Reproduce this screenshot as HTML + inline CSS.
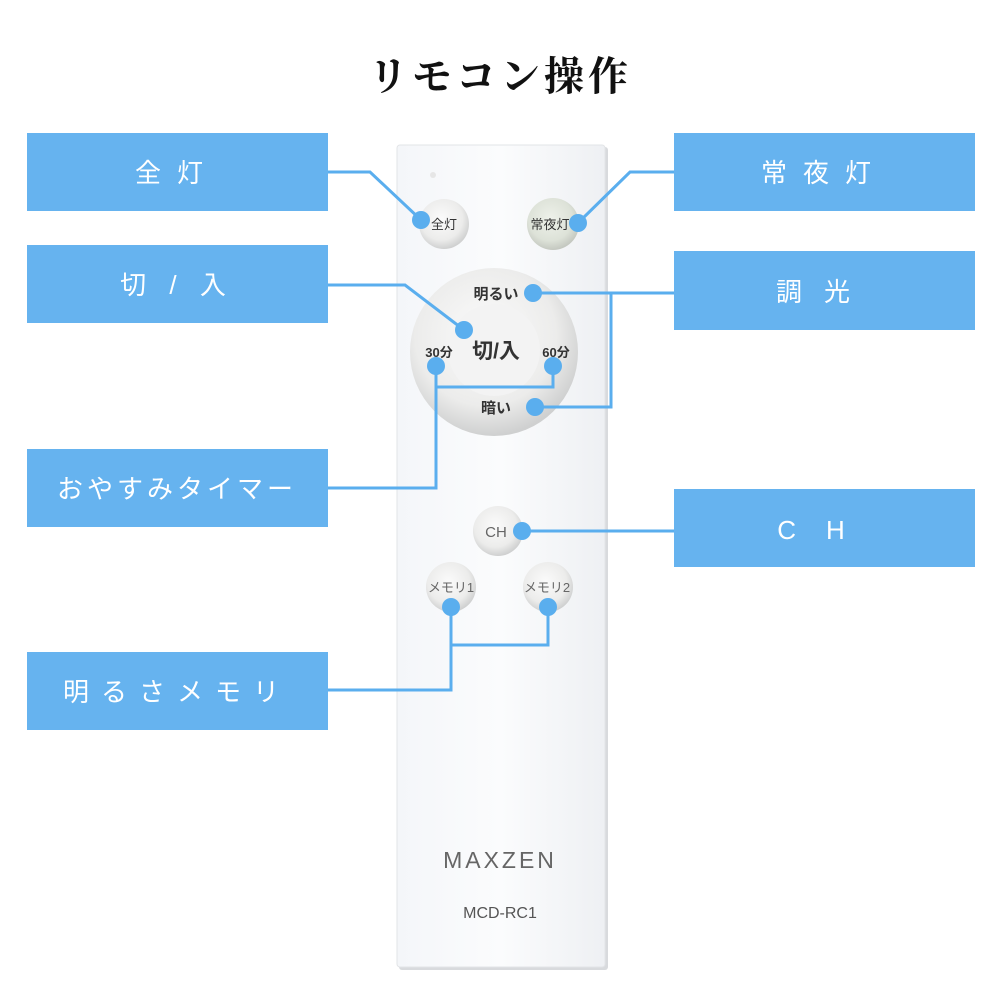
<!DOCTYPE html>
<html><head><meta charset="utf-8"><style>
body{margin:0;background:#fff;}
svg{display:block}
</style></head><body>
<svg width="1000" height="1000" viewBox="0 0 1000 1000" xmlns="http://www.w3.org/2000/svg">
<defs>
<radialGradient id="btn" cx="45%" cy="40%" r="60%"><stop offset="0" stop-color="#fbfbfb"/><stop offset="0.7" stop-color="#ececeb"/><stop offset="1" stop-color="#cfd0d0"/></radialGradient>
<radialGradient id="btng" cx="45%" cy="40%" r="60%"><stop offset="0" stop-color="#eef1ea"/><stop offset="0.7" stop-color="#dde2d8"/><stop offset="1" stop-color="#c4c8c0"/></radialGradient>
<linearGradient id="rem" x1="0" x2="1"><stop offset="0" stop-color="#f4f6f9"/><stop offset="0.5" stop-color="#fbfcfd"/><stop offset="1" stop-color="#eef0f3"/></linearGradient>
</defs>
<text x="500" y="90" text-anchor="middle" font-family="'Noto Serif CJK SC','Liberation Serif',serif" font-weight="700" font-size="40" fill="#111" letter-spacing="4">リモコン操作</text>
<!-- remote -->
<rect x="399" y="147" width="209" height="823" rx="3" fill="#d8dadd"/>
<rect x="397" y="145" width="208" height="822" rx="3" fill="url(#rem)" stroke="#e2e4e7"/>
<circle cx="433" cy="175" r="3" fill="#e6e6e6"/>
<circle cx="444" cy="224" r="25" fill="url(#btn)"/>
<circle cx="553" cy="224" r="26" fill="url(#btng)"/>
<circle cx="494" cy="352" r="84" fill="url(#btn)"/>
<circle cx="494" cy="350" r="46" fill="#f3f3f3"/>
<circle cx="498" cy="531" r="25" fill="url(#btn)"/>
<circle cx="451" cy="587" r="25" fill="url(#btn)"/>
<circle cx="548" cy="587" r="25" fill="url(#btn)"/>
<g font-family="'Liberation Sans','Noto Sans CJK JP',sans-serif" fill="#333">
<text x="444" y="229" text-anchor="middle" font-size="13">全灯</text>
<text x="550" y="229" text-anchor="middle" font-size="13">常夜灯</text>
<text x="496" y="299" text-anchor="middle" font-size="15" font-weight="700">明るい</text>
<text x="439" y="357" text-anchor="middle" font-size="13" font-weight="700">30分</text>
<text x="556" y="357" text-anchor="middle" font-size="13" font-weight="700">60分</text>
<text x="496" y="358" text-anchor="middle" font-size="21" font-weight="700">切/入</text>
<text x="496" y="413" text-anchor="middle" font-size="15" font-weight="700">暗い</text>
<text x="496" y="537" text-anchor="middle" font-size="15" fill="#666">CH</text>
<text x="451" y="592" text-anchor="middle" font-size="13" fill="#666">メモリ1</text>
<text x="547" y="592" text-anchor="middle" font-size="13" fill="#666">メモリ2</text>
<text x="500" y="868" text-anchor="middle" font-size="23" fill="#666" letter-spacing="3">MAXZEN</text>
<text x="500" y="918" text-anchor="middle" font-size="16" fill="#555">MCD-RC1</text>
</g>
<!-- connectors -->
<g stroke="#5aaeee" stroke-width="3" fill="none">
<polyline points="328,172 370,172 421,220"/>
<polyline points="674,172 630,172 578,223"/>
<polyline points="328,285 405,285 464,330"/>
<polyline points="674,293 533,293"/>
<polyline points="611,293 611,407 535,407"/>
<polyline points="328,488 436,488 436,366"/>
<polyline points="436,387 553,387 553,366"/>
<polyline points="674,531 522,531"/>
<polyline points="328,690 451,690 451,607"/>
<polyline points="451,645 548,645 548,607"/>
</g>
<g fill="#5aaeee">
<circle cx="421" cy="220" r="9"/><circle cx="578" cy="223" r="9"/><circle cx="464" cy="330" r="9"/>
<circle cx="533" cy="293" r="9"/><circle cx="436" cy="366" r="9"/><circle cx="553" cy="366" r="9"/>
<circle cx="535" cy="407" r="9"/><circle cx="522" cy="531" r="9"/><circle cx="451" cy="607" r="9"/><circle cx="548" cy="607" r="9"/>
</g>
<!-- label boxes -->
<g fill="#66b3ef">
<rect x="27" y="133" width="301" height="78"/>
<rect x="27" y="245" width="301" height="78"/>
<rect x="27" y="449" width="301" height="78"/>
<rect x="27" y="652" width="301" height="78"/>
<rect x="674" y="133" width="301" height="78"/>
<rect x="674" y="251" width="301" height="79"/>
<rect x="674" y="489" width="301" height="78"/>
</g>
<g font-family="'Liberation Sans','Noto Sans CJK JP',sans-serif" fill="#fff" font-size="26" text-anchor="middle">
<text x="177" y="182" letter-spacing="16">全灯</text>
<text x="177" y="294" letter-spacing="8">切 / 入</text>
<text x="177" y="498" letter-spacing="4">おやすみタイマー</text>
<text x="177" y="701" letter-spacing="12">明るさメモリ</text>
<text x="824" y="182" letter-spacing="16">常夜灯</text>
<text x="824" y="301" letter-spacing="22">調光</text>
<text x="826" y="539" letter-spacing="30">CH</text>
</g>
</svg>
</body></html>
